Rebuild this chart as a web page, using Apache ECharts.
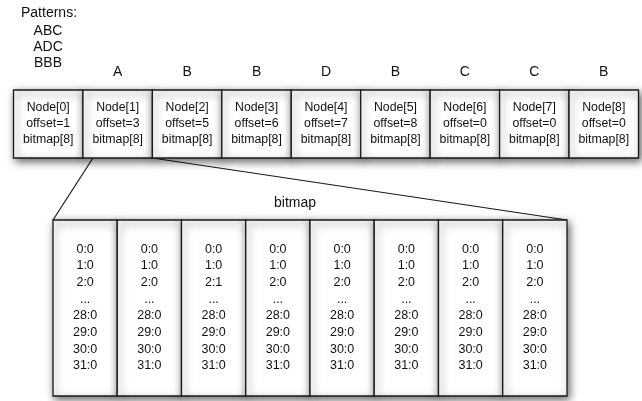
<!DOCTYPE html>
<html>
<head>
<meta charset="utf-8">
<script src="https://cdn.jsdelivr.net/npm/echarts@6/dist/echarts.min.js"></script>
<style>html,body{margin:0;padding:0;background:#fff;}#c{width:642px;height:401px;}</style>
</head>
<body>
<div id="c"></div>
<script>
// ---- data ----
const patterns = ['ABC', 'ADC', 'BBB'];
const nodeNames = ['Node[0]', 'Node[1]', 'Node[2]', 'Node[3]', 'Node[4]', 'Node[5]', 'Node[6]', 'Node[7]', 'Node[8]'];
const nodeLetters = ['', 'A', 'B', 'B', 'D', 'B', 'C', 'C', 'B'];
const nodeOffsets = [1, 3, 5, 6, 7, 8, 0, 0, 0];
const nodeBitmapSize = [8, 8, 8, 8, 8, 8, 8, 8, 8];
const expandedNode = 1;
const bitIndexLabels = ['0', '1', '2', '...', '28', '29', '30', '31'];
const bitColumns = [
  [0, 0, 0, null, 0, 0, 0, 0],
  [0, 0, 0, null, 0, 0, 0, 0],
  [0, 0, 1, null, 0, 0, 0, 0],
  [0, 0, 0, null, 0, 0, 0, 0],
  [0, 0, 0, null, 0, 0, 0, 0],
  [0, 0, 0, null, 0, 0, 0, 0],
  [0, 0, 0, null, 0, 0, 0, 0],
  [0, 0, 0, null, 0, 0, 0, 0]
];
const bitmapTitle = 'bitmap';

// ---- style ----
const FONT = '"Liberation Sans", Arial, Helvetica, sans-serif';
const BORDER = '#1a1a1a';
const shadow = { shadowBlur: 8, shadowOffsetX: 2, shadowOffsetY: 3, shadowColor: 'rgba(0,0,0,0.6)' };

function cellRender(textFn, lineHeight, fontSize) {
  return function (params, api) {
    const idx = api.value(0);
    const top = api.coord([idx, 1]);
    const size = api.size([1, 1]);
    const w = size[0], h = size[1];
    return {
      type: 'group',
      children: [
        {
          type: 'rect',
          shape: { x: top[0] - w / 2, y: top[1], width: w, height: h },
          style: Object.assign({ fill: '#fff', stroke: BORDER, lineWidth: 1.3 }, shadow)
        },
        {
          type: 'text',
          style: {
            text: textFn(idx),
            x: top[0], y: top[1] + h / 2 - 0.5,
            align: 'center', verticalAlign: 'middle',
            fontFamily: FONT, fontSize: fontSize, lineHeight: lineHeight,
            fill: '#111'
          }
        }
      ]
    };
  };
}

const nodeText = i => nodeNames[i] + '\noffset=' + nodeOffsets[i] + '\nbitmap[' + nodeBitmapSize[i] + ']';
const bitText = c => bitIndexLabels.map((r, k) => r === '...' ? '...' : r + ':' + bitColumns[c][k]).join('\n');

const chart = echarts.init(document.getElementById('c'), null, { renderer: 'canvas' });

const option = {
  animation: false,
  backgroundColor: '#fff',
  grid: [
    { left: 13.5, top: 90, width: 625, height: 68 },
    { left: 53, top: 220, width: 514, height: 176 }
  ],
  xAxis: [
    {
      gridIndex: 0, type: 'category', position: 'top', data: nodeNames,
      axisLine: { show: false }, axisTick: { show: false }, splitLine: { show: false },
      axisLabel: { interval: 0, margin: 11, formatter: (v, i) => nodeLetters[i], fontFamily: FONT, fontSize: 14, color: '#111' }
    },
    {
      gridIndex: 1, type: 'category', data: bitColumns.map((c, i) => 'col' + i), show: false
    }
  ],
  yAxis: [
    { gridIndex: 0, type: 'value', min: 0, max: 1, show: false },
    { gridIndex: 1, type: 'value', min: 0, max: 1, show: false }
  ],
  series: [
    {
      type: 'custom', xAxisIndex: 0, yAxisIndex: 0, z: 2,
      data: nodeNames.map((n, i) => [i]),
      renderItem: cellRender(nodeText, 16, 12.3)
    },
    {
      type: 'custom', xAxisIndex: 1, yAxisIndex: 1, z: 2,
      data: bitColumns.map((c, i) => [i]),
      renderItem: cellRender(bitText, 16.7, 12.5)
    }
  ]
};
chart.setOption(option);

// connecting lines from the expanded node to the bitmap box
const nodeBottom = chart.convertToPixel({ gridIndex: 0 }, [expandedNode, 0]);
const bandW = 625 / nodeNames.length;
const bl = chart.convertToPixel({ gridIndex: 1 }, [0, 1]);
const br = chart.convertToPixel({ gridIndex: 1 }, [bitColumns.length - 1, 1]);
const bandB = 514 / bitColumns.length;
const boxL = bl[0] - bandB / 2, boxR = br[0] + bandB / 2, boxT = bl[1];
const nodeL = nodeBottom[0] - bandW / 2, nodeR = nodeBottom[0] + bandW / 2;

chart.setOption({
  graphic: [
    { type: 'text', left: 21, top: 6, style: { text: 'Patterns:', fontFamily: FONT, fontSize: 14, fill: '#111' } },
    { type: 'text', x: 48, y: 23, style: { text: patterns.join('\n'), align: 'center', fontFamily: FONT, fontSize: 14, lineHeight: 16, fill: '#111' } },
    { type: 'text', x: 295, y: 203, style: { text: bitmapTitle, align: 'center', verticalAlign: 'middle', fontFamily: FONT, fontSize: 14, fill: '#111' } },
    { type: 'line', z: 1, shape: { x1: boxL, y1: boxT, x2: nodeL + 10, y2: nodeBottom[1] }, style: { stroke: BORDER, lineWidth: 1.2 } },
    { type: 'line', z: 1, shape: { x1: nodeR, y1: nodeBottom[1], x2: boxR, y2: boxT }, style: { stroke: BORDER, lineWidth: 1.2 } }
  ]
});
</script>
</body>
</html>
